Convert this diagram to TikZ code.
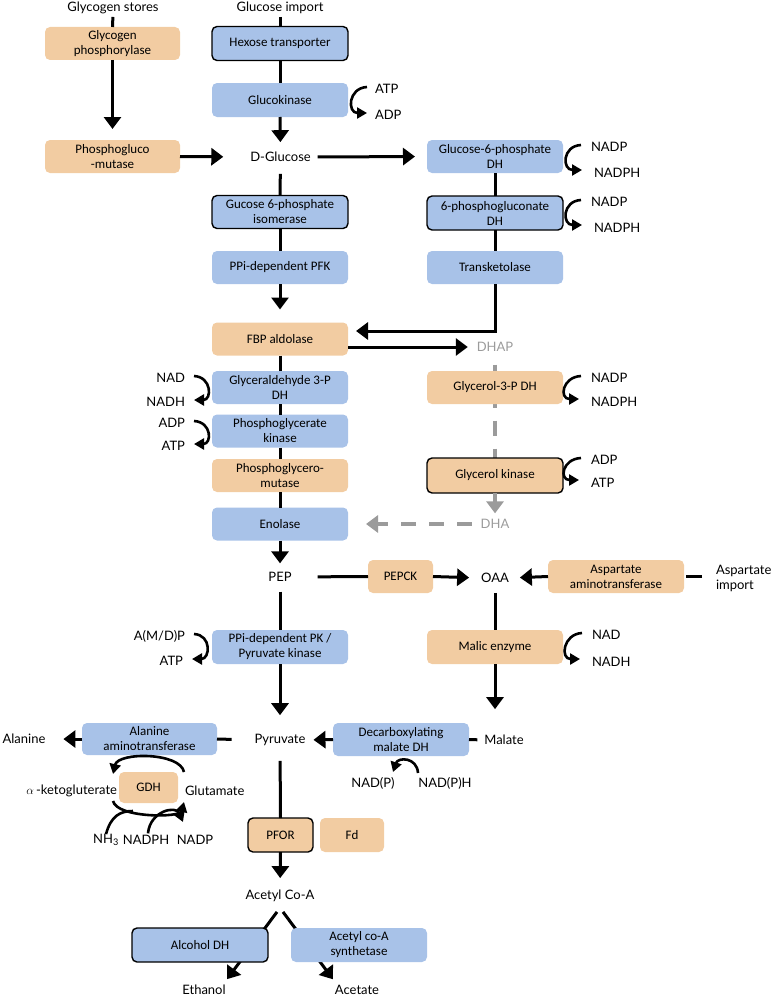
\documentclass[tikz,border=0pt]{standalone}
\usepackage{fontspec}
\setmainfont{Lato}
\newfontfamily\boxfont{Carlito}
\usetikzlibrary{arrows.meta,calc}
\definecolor{bbox}{HTML}{A8C2E8}
\definecolor{tbox}{HTML}{F2CCA2}
\definecolor{grayln}{HTML}{9B9B9B}
\pgfdeclarelayer{bg}
\pgfsetlayers{bg,main}
\newcommand{\rcof}[2]{\draw[cof] ($(#1.west)+(-10,-2)$) .. controls ($(#1.west)+(-29,-1)$) and ($(#2.west)+(-32,-3)$) .. ($(#2.west)+(-12,-3)$);}
\newcommand{\lcof}[2]{\draw[cof] ($(#1.east)+(9,-2)$) .. controls ($(#1.east)+(27,-1)$) and ($(#2.east)+(27,-2)$) .. ($(#2.east)+(9,-2)$);}
\begin{document}
\begin{tikzpicture}[x=1pt,y=-1pt,
  every node/.style={inner sep=0pt, outer sep=0pt},
  lab/.style={font=\fontsize{13}{15}\selectfont, align=center},
  enz/.style={rounded corners=5pt, minimum width=136pt, minimum height=33pt, align=center, font=\boxfont\fontsize{13}{15}\selectfont},
  bl/.style={enz, fill=bbox},
  tn/.style={enz, fill=tbox},
  bd/.style={draw=black, line width=1.4pt},
  ln/.style={line width=3pt},
  arr/.style={line width=3pt, -{Triangle[width=17pt,length=12pt]}},
  gr/.style={line width=4pt, draw=grayln, dash pattern=on 15pt off 13pt},
  grarr/.style={gr, -{Triangle[width=17pt,length=12pt]}, grayln},
  cof/.style={line width=2.6pt, -{Triangle[width=11pt,length=10pt]}},
  cofl/.style={line width=2.6pt},
]
\useasboundingbox (0,0) rectangle (772,998);

% ---- text labels
\node[lab] (gs) at (113,8) {Glycogen stores};
\node[lab] (gi) at (280,8) {Glucose import};
\node[lab] (dglc) at (280.5,157) {D-Glucose};
\node[lab, text=grayln] (dhap) at (495,347) {DHAP};
\node[lab, text=grayln] (dha) at (495,524) {DHA};
\node[lab] (pep) at (280,577) {PEP};
\node[lab] (oaa) at (495,578) {OAA};
\node[lab, align=left, anchor=west] (aimp) at (716,578) {Aspartate\\import};
\node[lab] (pyr) at (280,740) {Pyruvate};
\node[lab] (malate) at (504,740) {Malate};
\node[lab] (alanine) at (24,739) {Alanine};
\node[lab, anchor=east] (akg) at (117,791) {$\alpha$\,-ketogluterate};
\node[lab, anchor=west] (glu) at (185,791) {Glutamate};
\node[lab] (nh3) at (106,840) {NH\textsubscript{3}};
\node[lab] (nadph3) at (146,840) {NADPH};
\node[lab] (nadp3) at (195,840) {NADP};
\node[lab] (nadp4) at (373,783) {NAD(P)};
\node[lab] (nadph4) at (445,783) {NAD(P)H};
\node[lab] (acoa) at (280,896) {Acetyl Co-A};
\node[lab] (ethanol) at (204,990) {Ethanol};
\node[lab] (acetate) at (357,990) {Acetate};

% cofactor labels
\node[lab, anchor=west] (atp1) at (375,89) {ATP};
\node[lab, anchor=west] (adp1) at (375,115) {ADP};
\node[lab, anchor=west] (nadpA) at (591,147) {NADP};
\node[lab, anchor=west] (nadphA) at (594,173) {NADPH};
\node[lab, anchor=west] (nadpB) at (591,202) {NADP};
\node[lab, anchor=west] (nadphB) at (594,228) {NADPH};
\node[lab, anchor=west] (nadpC) at (591,378) {NADP};
\node[lab, anchor=west] (nadphC) at (591,402) {NADPH};
\node[lab, anchor=west] (adpD) at (591,460) {ADP};
\node[lab, anchor=west] (atpD) at (591,483) {ATP};
\node[lab, anchor=west] (nadE) at (592,635) {NAD};
\node[lab, anchor=west] (nadhE) at (592,662) {NADH};
\node[lab, anchor=east] (nadF) at (185,378) {NAD};
\node[lab, anchor=east] (nadhF) at (185,402) {NADH};
\node[lab, anchor=east] (adpG) at (185,423) {ADP};
\node[lab, anchor=east] (atpG) at (185,446) {ATP};
\node[lab, anchor=east] (amdp) at (185,636) {A(M/D)P};
\node[lab, anchor=east] (atpH) at (183,661) {ATP};

% ---- enzyme boxes
\node[tn, minimum width=135pt] (gp) at (112.5,43.5) {Glycogen\\phosphorylase};
\node[tn, minimum width=135pt] (pgm) at (112.5,156.5) {Phosphogluco\\-mutase};
\node[bl, bd, minimum height=34pt] (hex) at (280,43.5) {Hexose transporter};
\node[bl, minimum height=34pt] (gk) at (280,100) {Glucokinase};
\node[bl, bd] (gpi) at (280,212) {Gucose 6-phosphate\\isomerase};
\node[bl] (pfk) at (280,267.5) {PPi-dependent PFK};
\node[tn] (fbp) at (280,339) {FBP aldolase};
\node[bl] (gapdh) at (280,387.5) {Glyceraldehyde 3-P\\DH};
\node[bl] (pgk) at (280,431) {Phosphoglycerate\\kinase};
\node[tn] (pgmut) at (280,475.5) {Phosphoglycero-\\mutase};
\node[bl] (eno) at (280,524) {Enolase};
\node[bl, minimum height=34pt] (pk) at (280,647) {PPi-dependent PK /\\Pyruvate kinase};
\node[bl, minimum width=135pt, minimum height=32pt] (ala) at (149.5,739) {Alanine\\aminotransferase};
\node[tn, minimum width=59pt, minimum height=31pt] (gdh) at (148.5,787.5) {GDH};
\node[tn, bd, minimum width=65pt, minimum height=34pt] (pfor) at (280.5,835) {PFOR};
\node[tn, minimum width=64pt, minimum height=34pt] (fd) at (352,835) {Fd};
\node[bl, bd, minimum height=34pt] (adh) at (200,945) {Alcohol DH};
\node[bl, minimum height=34pt] (acs) at (359,945) {Acetyl co-A\\synthetase};
\node[bl] (g6pdh) at (495,156.5) {Glucose-6-phosphate\\DH};
\node[bl, bd, minimum height=34pt] (pgdh) at (495,213) {6-phosphogluconate\\DH};
\node[bl] (tkt) at (495,267.5) {Transketolase};
\node[tn] (g3pdh) at (495,387.5) {Glycerol-3-P DH};
\node[tn, bd, minimum height=35pt] (glk) at (495,475.5) {Glycerol kinase};
\node[tn, minimum width=65pt] (pepck) at (400.5,576.5) {PEPCK};
\node[tn] (aat) at (616,576.5) {Aspartate\\aminotransferase};
\node[tn, minimum height=34pt] (me) at (495,647) {Malic enzyme};
\node[bl] (mdh) at (401,739.5) {Decarboxylating\\malate DH};

% ---- lines drawn behind boxes
\begin{pgfonlayer}{bg}
\draw[gr, shorten <=13pt] (dhap.south) -- (glk.north);
\draw[arr] ($(acoa.south)+(-3,10)$) -- ($(ethanol.north)+(23,-6)$);
\draw[arr] ($(acoa.south)+(3,10)$) -- ($(acetate.north)+(-24,-6)$);
\end{pgfonlayer}

% ---- connectors
\draw[ln, shorten <=3pt] (gs.south) -- (gp.north);
\draw[arr, shorten >=11pt] (gp.south) -- (pgm.north);
\draw[ln, shorten <=3pt] (gi.south) -- (hex.north);
\draw[ln] (hex.south) -- (gk.north);
\draw[arr, shorten >=10pt] (gk.south) -- (dglc.north);
\draw[arr, shorten >=27pt] (pgm.east) -- (dglc.west);
\draw[arr, shorten <=7pt, shorten >=12pt] (dglc.east) -- (g6pdh.west);
\draw[ln, shorten <=12pt] (dglc.south) -- (gpi.north);
\draw[ln] (gpi.south) -- (pfk.north);
\draw[arr, shorten >=13pt] (pfk.south) -- (fbp.north);
\draw[ln] (g6pdh.south) -- (pgdh.north);
\draw[ln] (pgdh.south) -- (tkt.north);
\draw[arr, shorten >=8pt] (tkt.south) |- ([yshift=8pt]fbp.east);
\draw[arr, shorten >=9pt] ([yshift=-8pt]fbp.east) -- (dhap.west);
\draw[ln] (fbp.south) -- (gapdh.north);
\draw[ln] (gapdh.south) -- (pgk.north);
\draw[ln] (pgk.south) -- (pgmut.north);
\draw[ln] (pgmut.south) -- (eno.north);
\draw[arr, shorten >=9pt] (eno.south) -- (pep.north);
\draw[grarr] (glk.south) -- ($(dha.north)+(0,-6)$);
\draw[grarr, shorten <=9pt, shorten >=18pt] (dha.west) -- (eno.east);
\draw[ln, shorten <=26pt] (pep.east) -- (pepck.west);
\draw[arr, shorten >=12pt] (pepck.east) -- (oaa.west);
\draw[arr, shorten >=11pt] (aat.west) -- (oaa.east);
\draw[ln, shorten <=14pt, shorten >=2pt] (aimp.west |- aat.east) -- (aat.east);
\draw[ln, shorten <=10pt] (pep.south) -- (pk.north);
\draw[arr, shorten >=19pt] (pk.south) -- (pyr.north);
\draw[ln, shorten <=10pt] (oaa.south) -- (me.north);
\draw[arr, shorten >=26pt] (me.south) -- (me.south |- malate.north);
\draw[ln, shorten <=7pt] (malate.west) -- (mdh.east);
\draw[arr, shorten >=8pt] (mdh.west) -- (pyr.east);
\draw[ln, shorten <=23pt] (pyr.west) -- (ala.east);
\draw[arr, shorten >=18pt] (ala.west) -- (alanine.east);
\draw[ln, shorten <=15pt] (pyr.south) -- (pfor.north);
\draw[arr, shorten >=12pt] (pfor.south) -- (acoa.north);

% ---- cofactor arcs
\draw[cof] ($(atp1.west)+(-8,-2)$) .. controls ($(atp1.west)+(-27,-1)$) and ($(adp1.west)+(-28,-2)$) .. ($(adp1.west)+(-8,-2)$);
\rcof{nadpA}{nadphA}
\rcof{nadpB}{nadphB}
\rcof{nadpC}{nadphC}
\rcof{adpD}{atpD}
\rcof{nadE}{nadhE}
\lcof{nadF}{nadhF}
\lcof{adpG}{atpG}
\lcof{amdp}{atpH}

% GDH cycle
\draw[cof] (184,772) .. controls (180,752) and (118,752) .. (113,774);
\draw[cof] (113,801) .. controls (117,818) and (180,818) .. (184,802);
\draw[cofl] (nh3.north) .. controls (111,816) and (120,811) .. (133,811);
\draw[cof] ($(nadph3.north)+(2,-2)$) .. controls (150,811) and (176,805) .. (183,822);
% malate DH cofactor
\draw[cof] ($(nadph4.north)+(-27,-4)$) .. controls (417,757) and (398,757) .. ($(nadp4.north)+(20,-5)$);
\end{tikzpicture}
\end{document}
